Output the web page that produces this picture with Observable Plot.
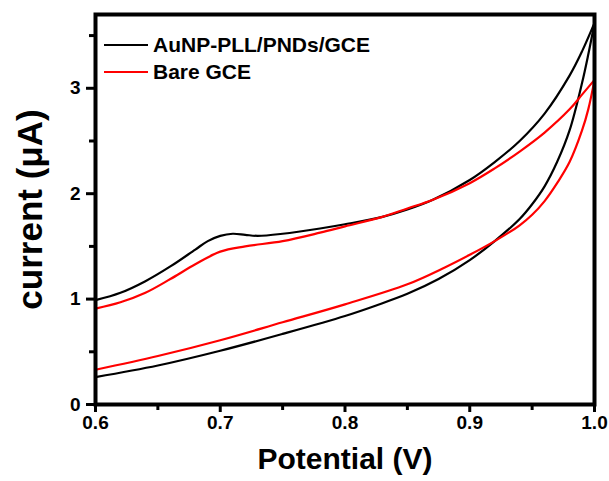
<!DOCTYPE html>
<html><head><meta charset="utf-8">
<script src="https://cdn.jsdelivr.net/npm/d3@7"></script>
<script src="https://cdn.jsdelivr.net/npm/@observablehq/plot@0.6"></script>
<style>
body{margin:0;background:#fff}
#chart{position:relative;width:609px;height:481px;overflow:hidden}
#chart svg g[aria-label="frame"], #chart svg rect[aria-label="frame"]{stroke:#000 !important;stroke-width:4px !important}
#chart svg g[aria-label$="axis tick"]{stroke:#000 !important;stroke-width:3px !important}
#chart svg g[aria-label$="axis tick label"]{font-weight:bold !important;font-size:19px !important;fill:#000 !important}
#legend{position:absolute;left:104px;top:31px;font:bold 21px "Liberation Sans",Arial,sans-serif;color:#000}
#legend .row{display:flex;align-items:center;height:27px;line-height:27px;white-space:nowrap}
#legend .sw{width:44px;height:0;border-top:2.2px solid #000;margin-right:5px}
</style>
</head><body><div id="chart"><div id="legend"></div></div>
<script>
const seriesNames = ["AuNP-PLL/PNDs/GCE", "Bare GCE"];
const seriesColors = ["#000000", "#ff0000"];

// AuNP-PLL/PNDs/GCE, forward scan (0.6 -> 1.0 V)
const blackFwdV = [0.60,0.62,0.64,0.66,0.68,0.69,0.70,0.71,0.72,0.73,0.75,0.78,0.80,0.83,0.85,0.87,0.90,0.92,0.94,0.96,0.98,0.99,1.00];
const blackFwdI = [0.99,1.06,1.17,1.31,1.47,1.55,1.60,1.62,1.61,1.60,1.62,1.67,1.71,1.78,1.85,1.94,2.13,2.30,2.50,2.76,3.12,3.35,3.62];
// AuNP-PLL/PNDs/GCE, reverse scan (1.0 -> 0.6 V)
const blackRevV = [1.00,0.995,0.99,0.98,0.97,0.96,0.95,0.94,0.92,0.90,0.875,0.85,0.825,0.80,0.75,0.70,0.65,0.60];
const blackRevI = [3.62,3.32,3.05,2.60,2.30,2.07,1.90,1.76,1.55,1.37,1.19,1.05,0.94,0.84,0.67,0.51,0.37,0.26];
// Bare GCE, forward scan
const redFwdV = [0.60,0.62,0.64,0.66,0.68,0.70,0.72,0.75,0.78,0.80,0.83,0.85,0.87,0.90,0.92,0.94,0.96,0.98,0.99,1.00];
const redFwdI = [0.91,0.97,1.06,1.19,1.33,1.45,1.50,1.55,1.63,1.69,1.78,1.86,1.94,2.10,2.24,2.40,2.58,2.80,2.94,3.08];
// Bare GCE, reverse scan
const redRevV = [1.00,0.995,0.99,0.98,0.97,0.96,0.95,0.94,0.92,0.90,0.88,0.85,0.80,0.75,0.70,0.65,0.60];
const redRevI = [3.08,2.80,2.60,2.30,2.10,1.93,1.80,1.70,1.55,1.42,1.30,1.14,0.95,0.78,0.61,0.46,0.33];

const xMajor = [0.6,0.7,0.8,0.9,1.0];
const xMinor = [0.65,0.75,0.85,0.95];
const yMajor = [0,1,2,3];
const yMinor = [0.5,1.5,2.5,3.5];
const xTitle = "Potential (V)";
const yTitle = "current (μA)";

const branches = [
  [seriesNames[0], "fwd", blackFwdV, blackFwdI],
  [seriesNames[0], "rev", blackRevV, blackRevI],
  [seriesNames[1], "fwd", redFwdV, redFwdI],
  [seriesNames[1], "rev", redRevV, redRevI]
];
const rows = branches.flatMap(([s, b, V, I]) => V.map((v, k) => ({series: s, key: s + b, v, i: I[k]})));

const font = "Liberation Sans, Arial, sans-serif";

const plot = Plot.plot({
  width: 609, height: 481,
  marginLeft: 95, marginRight: 15, marginTop: 14, marginBottom: 77,
  style: {fontFamily: font, background: "#fff"},
  x: {domain: [0.6, 1.0]},
  y: {domain: [0, 3.7]},
  color: {domain: seriesNames, range: seriesColors},
  marks: [
    Plot.line(rows, {x: "v", y: "i", z: "key", stroke: "series", strokeWidth: 2.2, curve: "catmull-rom"}),
    Plot.axisX(xMajor, {tickSize: 8, strokeWidth: 3, tickFormat: d3.format(".1f"), fontSize: 19, fontWeight: "bold", tickPadding: 3, label: null}),
    Plot.axisX(xMinor, {tickSize: 6, strokeWidth: 3, tickFormat: () => "", label: null}),
    Plot.axisY(yMajor, {tickSize: 9, strokeWidth: 3, tickFormat: d3.format("d"), fontSize: 19, fontWeight: "bold", tickPadding: 6, label: null}),
    Plot.axisY(yMinor, {tickSize: 6, strokeWidth: 3, tickFormat: () => "", label: null}),
    Plot.frame({stroke: "#000", strokeWidth: 4}),
    Plot.text([xTitle], {frameAnchor: "bottom", textAnchor: "middle", dy: 64, fontSize: 30, fontWeight: "bold", fill: "#000"}),
    Plot.text([yTitle], {frameAnchor: "left", textAnchor: "middle", dx: -65, rotate: -90, fontSize: 35, fontWeight: "bold", fill: "#000"})
  ]
});
const chart = document.getElementById("chart");
chart.insertBefore(plot, chart.firstChild);

// legend (HTML overlay in the top-left of the frame)
const legend = document.getElementById("legend");
seriesNames.forEach((name, k) => {
  const row = document.createElement("div");
  row.className = "row";
  const sw = document.createElement("span");
  sw.className = "sw";
  sw.style.borderTopColor = seriesColors[k];
  const tx = document.createElement("span");
  tx.textContent = name;
  row.appendChild(sw);
  row.appendChild(tx);
  legend.appendChild(row);
});
</script>
</body></html>
